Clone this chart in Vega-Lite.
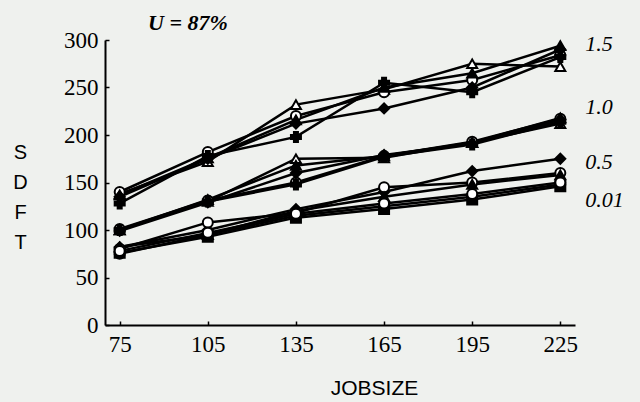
{
  "$schema": "https://vega.github.io/schema/vega-lite/v6.json",
  "width": 470,
  "height": 285,
  "autosize": {"type": "none"},
  "padding": {"left": 105, "top": 40, "right": 65, "bottom": 77},
  "background": "#eff1ee",
  "config": {
    "view": {"stroke": null},
    "axis": {"grid": false, "domainColor": "#000", "domainWidth": 2, "tickColor": "#000", "tickWidth": 1.5, "labelColor": "#000", "titleColor": "#000"}
  },
  "title": {"text": "U = 87%", "anchor": "start", "frame": "group", "dx": 43, "offset": -6, "font": "Liberation Serif", "fontStyle": "italic", "fontWeight": "bold", "fontSize": 22, "color": "#000"},
  "datasets": {
    "series": [
      {"g": "1.5", "s": "A", "x": 75, "y": 138}, {"g": "1.5", "s": "A", "x": 105, "y": 172}, {"g": "1.5", "s": "A", "x": 135, "y": 232}, {"g": "1.5", "s": "A", "x": 165, "y": 248}, {"g": "1.5", "s": "A", "x": 195, "y": 275}, {"g": "1.5", "s": "A", "x": 225, "y": 272},
      {"g": "1.5", "s": "B", "x": 75, "y": 140}, {"g": "1.5", "s": "B", "x": 105, "y": 182}, {"g": "1.5", "s": "B", "x": 135, "y": 220}, {"g": "1.5", "s": "B", "x": 165, "y": 245}, {"g": "1.5", "s": "B", "x": 195, "y": 258}, {"g": "1.5", "s": "B", "x": 225, "y": 284},
      {"g": "1.5", "s": "C", "x": 75, "y": 135}, {"g": "1.5", "s": "C", "x": 105, "y": 175}, {"g": "1.5", "s": "C", "x": 135, "y": 212}, {"g": "1.5", "s": "C", "x": 165, "y": 228}, {"g": "1.5", "s": "C", "x": 195, "y": 250}, {"g": "1.5", "s": "C", "x": 225, "y": 290},
      {"g": "1.5", "s": "D", "x": 75, "y": 128}, {"g": "1.5", "s": "D", "x": 105, "y": 178}, {"g": "1.5", "s": "D", "x": 135, "y": 198}, {"g": "1.5", "s": "D", "x": 165, "y": 255}, {"g": "1.5", "s": "D", "x": 195, "y": 245}, {"g": "1.5", "s": "D", "x": 225, "y": 282},
      {"g": "1.5", "s": "E", "x": 75, "y": 137}, {"g": "1.5", "s": "E", "x": 105, "y": 176}, {"g": "1.5", "s": "E", "x": 135, "y": 216}, {"g": "1.5", "s": "E", "x": 165, "y": 250}, {"g": "1.5", "s": "E", "x": 195, "y": 265}, {"g": "1.5", "s": "E", "x": 225, "y": 294},
      {"g": "1.0", "s": "A", "x": 75, "y": 100}, {"g": "1.0", "s": "A", "x": 105, "y": 130}, {"g": "1.0", "s": "A", "x": 135, "y": 175}, {"g": "1.0", "s": "A", "x": 165, "y": 176}, {"g": "1.0", "s": "A", "x": 195, "y": 192}, {"g": "1.0", "s": "A", "x": 225, "y": 212},
      {"g": "1.0", "s": "B", "x": 75, "y": 101}, {"g": "1.0", "s": "B", "x": 105, "y": 131}, {"g": "1.0", "s": "B", "x": 135, "y": 150}, {"g": "1.0", "s": "B", "x": 165, "y": 178}, {"g": "1.0", "s": "B", "x": 195, "y": 193}, {"g": "1.0", "s": "B", "x": 225, "y": 217},
      {"g": "1.0", "s": "C", "x": 75, "y": 99}, {"g": "1.0", "s": "C", "x": 105, "y": 129}, {"g": "1.0", "s": "C", "x": 135, "y": 160}, {"g": "1.0", "s": "C", "x": 165, "y": 179}, {"g": "1.0", "s": "C", "x": 195, "y": 191}, {"g": "1.0", "s": "C", "x": 225, "y": 216},
      {"g": "1.0", "s": "D", "x": 75, "y": 100}, {"g": "1.0", "s": "D", "x": 105, "y": 130}, {"g": "1.0", "s": "D", "x": 135, "y": 148}, {"g": "1.0", "s": "D", "x": 165, "y": 177}, {"g": "1.0", "s": "D", "x": 195, "y": 190}, {"g": "1.0", "s": "D", "x": 225, "y": 214},
      {"g": "1.0", "s": "E", "x": 75, "y": 100}, {"g": "1.0", "s": "E", "x": 105, "y": 132}, {"g": "1.0", "s": "E", "x": 135, "y": 168}, {"g": "1.0", "s": "E", "x": 165, "y": 178}, {"g": "1.0", "s": "E", "x": 195, "y": 192}, {"g": "1.0", "s": "E", "x": 225, "y": 218},
      {"g": "0.5", "s": "C", "x": 75, "y": 82}, {"g": "0.5", "s": "C", "x": 105, "y": 100}, {"g": "0.5", "s": "C", "x": 135, "y": 122}, {"g": "0.5", "s": "C", "x": 165, "y": 140}, {"g": "0.5", "s": "C", "x": 195, "y": 162}, {"g": "0.5", "s": "C", "x": 225, "y": 175},
      {"g": "0.5", "s": "B", "x": 75, "y": 80}, {"g": "0.5", "s": "B", "x": 105, "y": 108}, {"g": "0.5", "s": "B", "x": 135, "y": 118}, {"g": "0.5", "s": "B", "x": 165, "y": 145}, {"g": "0.5", "s": "B", "x": 195, "y": 150}, {"g": "0.5", "s": "B", "x": 225, "y": 160},
      {"g": "0.5", "s": "E", "x": 75, "y": 82}, {"g": "0.5", "s": "E", "x": 105, "y": 95}, {"g": "0.5", "s": "E", "x": 135, "y": 120}, {"g": "0.5", "s": "E", "x": 165, "y": 135}, {"g": "0.5", "s": "E", "x": 195, "y": 148}, {"g": "0.5", "s": "E", "x": 225, "y": 158},
      {"g": "0.01", "s": "F", "x": 75, "y": 76}, {"g": "0.01", "s": "F", "x": 105, "y": 93}, {"g": "0.01", "s": "F", "x": 135, "y": 113}, {"g": "0.01", "s": "F", "x": 165, "y": 122}, {"g": "0.01", "s": "F", "x": 195, "y": 132}, {"g": "0.01", "s": "F", "x": 225, "y": 146},
      {"g": "0.01", "s": "G", "x": 75, "y": 75}, {"g": "0.01", "s": "G", "x": 105, "y": 95}, {"g": "0.01", "s": "G", "x": 135, "y": 115}, {"g": "0.01", "s": "G", "x": 165, "y": 125}, {"g": "0.01", "s": "G", "x": 195, "y": 135}, {"g": "0.01", "s": "G", "x": 225, "y": 148},
      {"g": "0.01", "s": "H", "x": 75, "y": 78}, {"g": "0.01", "s": "H", "x": 105, "y": 97}, {"g": "0.01", "s": "H", "x": 135, "y": 117}, {"g": "0.01", "s": "H", "x": 165, "y": 128}, {"g": "0.01", "s": "H", "x": 195, "y": 138}, {"g": "0.01", "s": "H", "x": 225, "y": 150}
    ],
    "labels": [
      {"label": "1.5", "x": 225, "y": 296},
      {"label": "1.0", "x": 225, "y": 229},
      {"label": "0.5", "x": 225, "y": 172},
      {"label": "0.01", "x": 225, "y": 132}
    ]
  },
  "layer": [
    {
      "data": {"name": "series"},
      "mark": {"type": "line", "color": "#000", "strokeWidth": 2.5},
      "encoding": {
        "x": {"field": "x", "type": "quantitative", "scale": {"domain": [70, 230], "nice": false, "zero": false},
              "axis": {"values": [75, 105, 135, 165, 195, 225], "title": "JOBSIZE", "titleX": 269, "titleFont": "Liberation Sans", "titleFontSize": 21, "titleFontWeight": "normal", "titlePadding": 21, "labelFont": "Liberation Serif", "labelFontSize": 23, "tickSize": -4, "labelPadding": 12}},
        "y": {"field": "y", "type": "quantitative", "scale": {"domain": [0, 300], "nice": false},
              "axis": {"values": [0, 50, 100, 150, 200, 250, 300], "title": ["S", "D", "F", "T"], "titleAngle": 0, "titleAlign": "center", "titleBaseline": "middle", "titleX": -85, "titleY": 112, "titleLineHeight": 30, "titleFont": "Liberation Sans", "titleFontSize": 20, "titleFontWeight": "normal", "labelFont": "Liberation Serif", "labelFontSize": 23, "tickSize": -4, "labelPadding": 11}},
        "detail": [{"field": "g"}, {"field": "s"}]
      }
    },
    {
      "data": {"name": "series"},
      "mark": {"type": "point", "stroke": "#000", "strokeWidth": 2, "size": 100, "opacity": 1},
      "encoding": {
        "x": {"field": "x", "type": "quantitative"},
        "y": {"field": "y", "type": "quantitative"},
        "shape": {"field": "s", "type": "nominal", "legend": null,
                  "scale": {"domain": ["A", "B", "C", "D", "E", "F", "G", "H"], "range": ["triangle-up", "circle", "diamond", "cross", "triangle-up", "square", "circle", "circle"]}},
        "fill": {"field": "s", "type": "nominal", "legend": null,
                 "scale": {"domain": ["A", "B", "C", "D", "E", "F", "G", "H"], "range": ["#ffffff", "#ffffff", "#000000", "#000000", "#000000", "#000000", "#000000", "#ffffff"]}}
      }
    },
    {
      "data": {"name": "labels"},
      "mark": {"type": "text", "align": "left", "baseline": "middle", "dx": 25, "font": "Liberation Serif", "fontStyle": "italic", "fontSize": 22, "color": "#000"},
      "encoding": {
        "x": {"field": "x", "type": "quantitative"},
        "y": {"field": "y", "type": "quantitative"},
        "text": {"field": "label"}
      }
    }
  ]
}
